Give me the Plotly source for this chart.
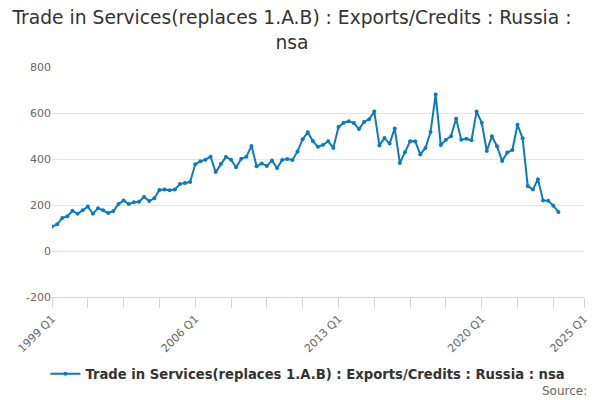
import plotly.graph_objects as go

# quarterly categories 1999 Q1 .. 2025 Q1 (axis runs to 2025 Q1, data ends 2023 Q4)
first_year = 1999
last_year = 2025
quarters = [f"{y} Q{q}" for y in range(first_year, last_year + 1) for q in range(1, 5)]
axis_quarters = quarters[:quarters.index("2025 Q1") + 1]

# Exports/Credits, Russia, nsa
exports = [
    106, 116, 143, 151, 175, 162, 177, 193, 162, 186,
    177, 165, 174, 204, 220, 204, 212, 214, 235, 217,
    229, 265, 267, 264, 267, 291, 296, 300, 377, 390,
    397, 410, 343, 378, 409, 397, 364, 401, 410, 457,
    368, 380, 370, 393, 361, 396, 400, 396, 433, 486,
    516, 478, 453, 462, 477, 448, 539, 558, 564, 557,
    530, 561, 573, 606, 459, 491, 467, 533, 383, 429,
    477, 477, 420, 448, 517, 680, 461, 484, 499, 575,
    484, 488, 481, 606, 558, 435, 499, 455, 391, 428,
    439, 549, 490, 283, 267, 312, 220, 219, 197, 170,
]
data_quarters = quarters[:len(exports)]
# position of each quarter along the axis
x_pos = [axis_quarters.index(q) for q in data_quarters]

y_ticks = [-200, 0, 200, 400, 600, 800]
y_tick_text = [str(v) for v in y_ticks]  # plain hyphen, not the unicode minus

series_name = "Trade in Services(replaces 1.A.B) : Exports/Credits : Russia : nsa"
title_text = "Trade in Services(replaces 1.A.B) : Exports/Credits : Russia :<br>nsa"

labelled = ["1999 Q1", "2006 Q1", "2013 Q1", "2020 Q1", "2025 Q1"]
labelled_pos = [axis_quarters.index(q) for q in labelled]

line_blue = "#0b7bc1"
axis_col = "#ccd6eb"

fig = go.Figure()
fig.add_trace(go.Scatter(
    x=x_pos,
    y=exports,
    customdata=data_quarters,
    hovertemplate="%{customdata}: %{y}<extra></extra>",
    mode="lines+markers",
    name=series_name,
    line=dict(color=line_blue, width=2),
    marker=dict(color=line_blue, size=4),
    showlegend=True,
))

# the page has an 8px body margin, so everything is nudged up/left by 8px
fig.update_layout(
    width=600,
    height=400,
    paper_bgcolor="white",
    plot_bgcolor="white",
    font=dict(family="DejaVu Sans", color="#333333"),
    title=dict(
        text=title_text,
        x=0.4733,
        xanchor="center",
        yref="container",
        y=0.959,
        yanchor="middle",
        font=dict(size=18.7, color="#333333"),
    ),
    margin=dict(l=44, r=24, t=59, b=111, autoexpand=False),
    legend=dict(
        orientation="h",
        x=0.481,
        xanchor="center",
        y=-0.335,
        yanchor="middle",
        font=dict(size=13.2, color="#333333", weight="bold"),
    ),
    annotations=[dict(
        text="Source:",
        xref="paper", yref="paper",
        x=1.01, y=-0.41,
        xanchor="right", yanchor="middle",
        showarrow=False,
        font=dict(size=12, color="#666666"),
    )],
)

fig.update_xaxes(
    type="linear",
    range=[0, len(axis_quarters) - 1],
    tickmode="array",
    tickvals=labelled_pos,
    ticktext=labelled,
    tickangle=-45,
    ticks="outside",
    ticklen=10,
    tickcolor=axis_col,
    minor=dict(
        tick0=0,
        dtick=7,
        ticks="outside",
        ticklen=10,
        tickcolor=axis_col,
        showgrid=False,
    ),
    showline=True,
    linecolor=axis_col,
    linewidth=1,
    showgrid=False,
    zeroline=False,
    automargin=False,
    tickfont=dict(size=11, color="#666666"),
)

fig.update_yaxes(
    range=[-200, 800],
    tickmode="array",
    tickvals=y_ticks,
    ticktext=y_tick_text,
    showgrid=True,
    gridcolor="#e6e6e6",
    zeroline=False,
    showline=False,
    automargin=False,
    tickfont=dict(size=11, color="#666666"),
    ticks="",
)

fig.write_html("out.html")
